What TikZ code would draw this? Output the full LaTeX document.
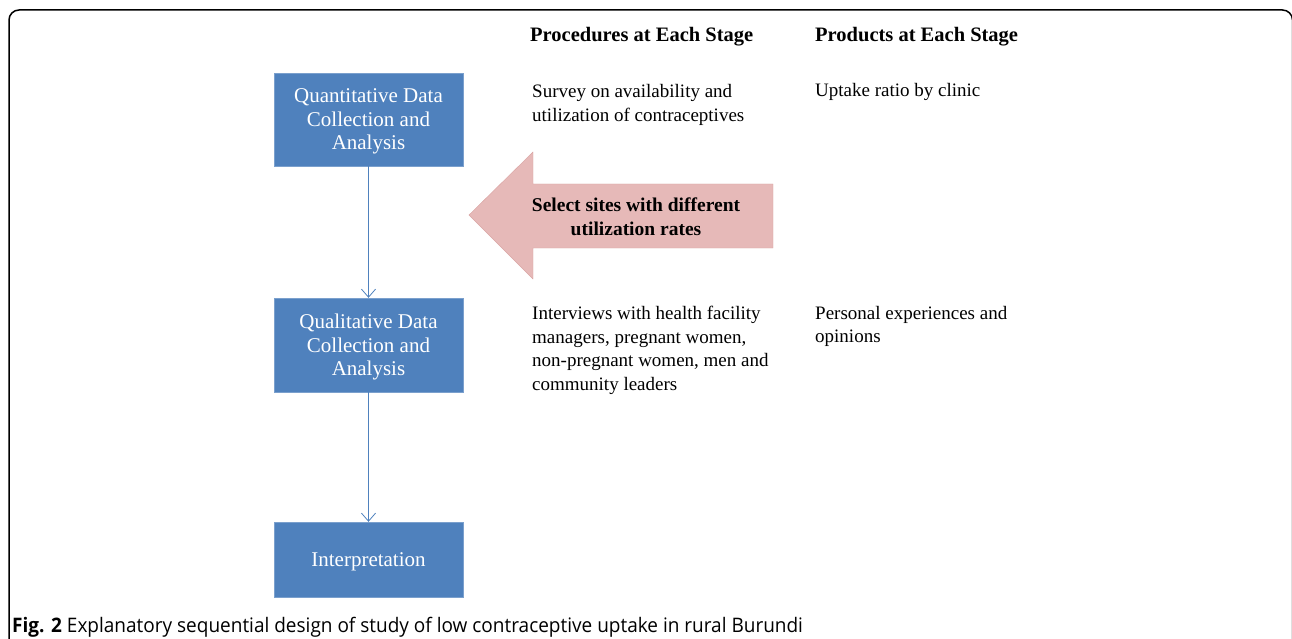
\documentclass[tikz,border=0pt]{standalone}
\usepackage{fontspec}
\setmainfont{Liberation Serif}
\newfontfamily\capfont[FakeStretch=0.95]{Open Sans}
\usetikzlibrary{arrows.meta}
\definecolor{boxblue}{HTML}{4F81BD}
\definecolor{arrowpink}{HTML}{E6B9B8}
\definecolor{arrowedge}{HTML}{D9A3A2}
\tikzset{
  stagebox/.style={fill=boxblue, draw=boxblue!75!white, text=white, align=center,
    font=\fontsize{21}{23.5}\selectfont, minimum width=189, inner sep=0, text depth=0pt},
  plaintext/.style={anchor=north west, align=left, inner sep=0,
    font=\fontsize{19}{23.5}\selectfont},
  headtext/.style={plaintext, font=\fontsize{20.5}{23.5}\selectfont\bfseries},
  flow/.style={draw=boxblue, thick, -{Straight Barb[length=8,width=14]}}
}
\begin{document}
\begin{tikzpicture}[x=1pt, y=-1pt] % design of the study
\useasboundingbox (0,0) rectangle (1292,639);
\draw[line width=1.5, rounded corners=10] (9,10) rectangle (1292.5,700);
% stages
\node[stagebox, minimum height=93] (quant) at (368.5,119.5) {Quantitative Data\\Collection and\\Analysis};
\node[stagebox, minimum height=94] (qual) at (368.5,345) {Qualitative Data\\Collection and\\Analysis};
\node[stagebox, minimum height=75] (interp) at (368.5,559.5) {Interpretation};
\draw[flow] (quant) -- (qual);
\draw[flow] (qual) -- (interp);
% big arrow back to the sites
\draw[fill=arrowpink, draw=arrowedge] (469,215) -- (533,152) -- (533,184) -- (773,184)
  -- (773,248) -- (533,248) -- (533,279) -- cycle;
\node[align=center, font=\fontsize{19.5}{24}\selectfont\bfseries] (select) at (636,217)
  {Select sites with different\\utilization rates};
% columns
\node[headtext] (prochead) at (530,27.5) {Procedures at Each Stage};
\node[headtext] (prodhead) at (815,27.5) {Products at Each Stage};
\node[plaintext] (survey) at (532,84.5) {Survey on availability and\\utilization of contraceptives};
\node[plaintext] (uptake) at (815,83.5) {Uptake ratio by clinic};
\node[plaintext] (interv) at (532,306) {Interviews with health facility\\managers, pregnant women,\\non-pregnant women, men and\\community leaders};
\node[plaintext] (persex) at (815,306) {Personal experiences and\\opinions};
% caption
\node[anchor=base west, inner sep=0, font=\capfont\fontsize{20}{24}\selectfont] (caption) at (12,632)
  {\textbf{Fig. 2} Explanatory sequential design of study of low contraceptive uptake in rural Burundi};
\end{tikzpicture}
\end{document}
